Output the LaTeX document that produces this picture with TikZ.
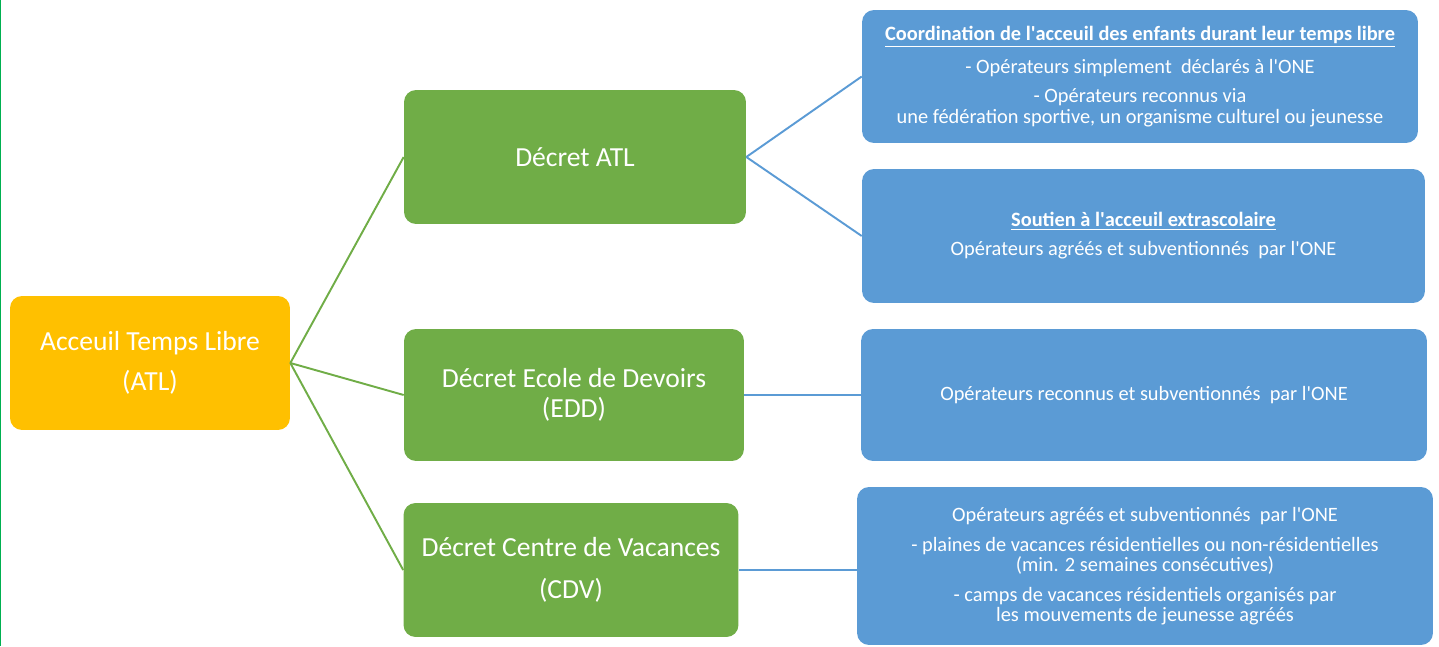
\documentclass[tikz,border=0pt]{standalone}
\usepackage{fontspec}
\setmainfont{Carlito}
\definecolor{atlyellow}{RGB}{255,192,0}
\definecolor{decgreen}{RGB}{112,173,71}
\definecolor{opblue}{RGB}{91,155,213}
\definecolor{edgegreen}{RGB}{0,176,80}
\newcommand{\ap}{\textquotesingle}
\begin{document}
\begin{tikzpicture}[x = 0.02cm, y = -0.02cm,
    box/.style = {rounded corners = 0.24cm, text = white, align = center, inner sep = 0pt},
    atlbox/.style = {box, fill = atlyellow, font = \fontsize{15.7}{17}\selectfont},
    decbox/.style = {box, fill = decgreen, font = \fontsize{15.7}{17}\selectfont, minimum height = 2.68cm},
    opbox/.style = {box, fill = opblue, font = \fontsize{11.6}{11.5}\selectfont},
    gline/.style = {color = decgreen, line width = 1.1pt},
    bline/.style = {color = opblue, line width = 1.1pt}]

    \useasboundingbox (0,0) rectangle (1439,646);
    % green rule on the left edge
    \draw [color = edgegreen, line width = 0.8pt] (0.6,0) -- (0.6,646);

    \node[atlbox, minimum width = 5.6cm, minimum height = 2.68cm] (atl) at (150, 363)
        {Acceuil Temps Libre\\[5.8pt](ATL)};

    \node[decbox, minimum width = 6.84cm] (datl) at (575, 157) {D\'ecret ATL};
    \node[decbox, minimum width = 6.8cm, minimum height = 2.64cm] (edd) at (574, 395)
        {D\'ecret Ecole de Devoirs\\(EDD)};
    \node[decbox, minimum width = 6.7cm] (cdv) at (571, 570)
        {D\'ecret Centre de Vacances\\[7pt](CDV)};

    \node[opbox, minimum width = 11.12cm, minimum height = 2.66cm] (coord) at (1140, 76.5)
        {\textbf{\underline{Coordination de l\ap acceuil des enfants durant leur temps libre}}\\[5.5pt]
         - Op\'erateurs simplement\ \ d\'eclar\'es \`a l\ap ONE\\[5.5pt]
         - Op\'erateurs reconnus via\\
         une f\'ed\'eration sportive, un organisme culturel ou jeunesse};
    \node[opbox, minimum width = 11.26cm, minimum height = 2.68cm] (extra) at (1143.5, 236)
        {\textbf{\underline{Soutien \`a l\ap acceuil extrascolaire}}\\[5pt]
         Op\'erateurs agr\'e\'es et subventionn\'es\ \ par l\ap ONE};
    \node[opbox, minimum width = 11.32cm, minimum height = 2.64cm] (reco) at (1144, 395)
        {Op\'erateurs reconnus et subventionn\'es\ \ par l\ap ONE};
    \node[opbox, minimum width = 11.52cm, minimum height = 3.16cm] (vac) at (1145, 566)
        {Op\'erateurs agr\'e\'es et subventionn\'es\ \ par l\ap ONE\\[5.5pt]
         - plaines de vacances r\'esidentielles ou non-r\'esidentielles\\
         (min. 2 semaines cons\'ecutives)\\[5.5pt]
         - camps de vacances r\'esidentiels organis\'es par\\
         les mouvements de jeunesse agr\'e\'es};

    % ATL -> decrets
    \draw [gline] (atl.east) -- (datl.west);
    \draw [gline] (atl.east) -- (edd.west);
    \draw [gline] (atl.east) -- (cdv.west);

    % decrets -> operateurs
    \draw [bline] (datl.east) -- (coord.west);
    \draw [bline] (datl.east) -- (extra.west);
    \draw [bline] (edd.east) -- (edd.east -| reco.west);
    \draw [bline] (cdv.east) -- (cdv.east -| vac.west);

\end{tikzpicture}
\end{document}
